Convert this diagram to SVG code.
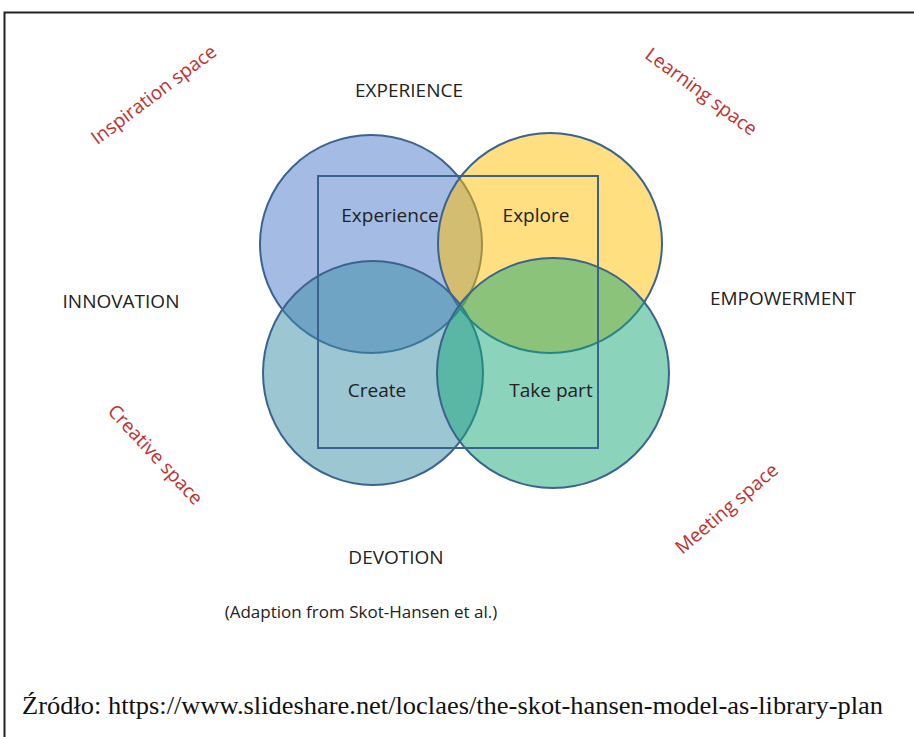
<svg xmlns="http://www.w3.org/2000/svg" width="914" height="737" viewBox="0 0 914 737">
<style>
.lbl{font-family:"Open Sans","Liberation Sans",sans-serif;font-size:19px;fill:#222;text-anchor:middle}
.red{font-family:"Open Sans","Liberation Sans",sans-serif;font-size:19px;fill:#c0302f;text-anchor:middle}
.circ{stroke:#3b6390;stroke-width:2;fill-opacity:0.5}
.src{font-family:"Liberation Serif",serif;font-size:25px;fill:#111}
</style>
<rect width="914" height="737" fill="#fff"/>
<path d="M4.5 737 V12.5 H914" fill="none" stroke="#222" stroke-width="2"/>
<g id="circles">
<g id="experience-circle"><ellipse class="circ" cx="371" cy="244" rx="111" ry="109" fill="#4a78c8"/></g>
<g id="explore-circle"><ellipse class="circ" cx="550" cy="243" rx="112" ry="110" fill="#ffc000"/></g>
<g id="create-circle"><ellipse class="circ" cx="373" cy="373" rx="110" ry="112" fill="#3a8ea5"/></g>
<g id="takepart-circle"><ellipse class="circ" cx="553" cy="373" rx="116" ry="115" fill="#18a878"/></g>
</g>
<g id="frame"><rect x="318" y="176" width="280" height="272" fill="none" stroke="#3b6390" stroke-width="2"/></g>
<g id="inner-labels">
<text class="lbl" x="390" y="222">Experience</text>
<text class="lbl" x="536" y="222">Explore</text>
<text class="lbl" x="377" y="397">Create</text>
<text class="lbl" x="551" y="397">Take part</text>
</g>
<g id="outer-labels">
<text class="lbl" x="409" y="97">EXPERIENCE</text>
<text class="lbl" x="121" y="308">INNOVATION</text>
<text class="lbl" x="783" y="305">EMPOWERMENT</text>
<text class="lbl" x="396" y="564">DEVOTION</text>
<text class="lbl" x="361" y="618" style="font-size:17px">(Adaption from Skot-Hansen et al.)</text>
</g>
<g id="spaces">
<text class="red" transform="translate(154,95) rotate(-37)" y="6">Inspiration space</text>
<text class="red" transform="translate(701,92) rotate(36.5)" y="6">Learning space</text>
<text class="red" transform="translate(155,455) rotate(47)" y="6">Creative space</text>
<text class="red" transform="translate(727,509) rotate(-40.5)" y="6">Meeting space</text>
</g>
<text class="src" x="22" y="714" textLength="861" lengthAdjust="spacingAndGlyphs">Źródło: https://www.slideshare.net/loclaes/the-skot-hansen-model-as-library-plan</text>
</svg>
